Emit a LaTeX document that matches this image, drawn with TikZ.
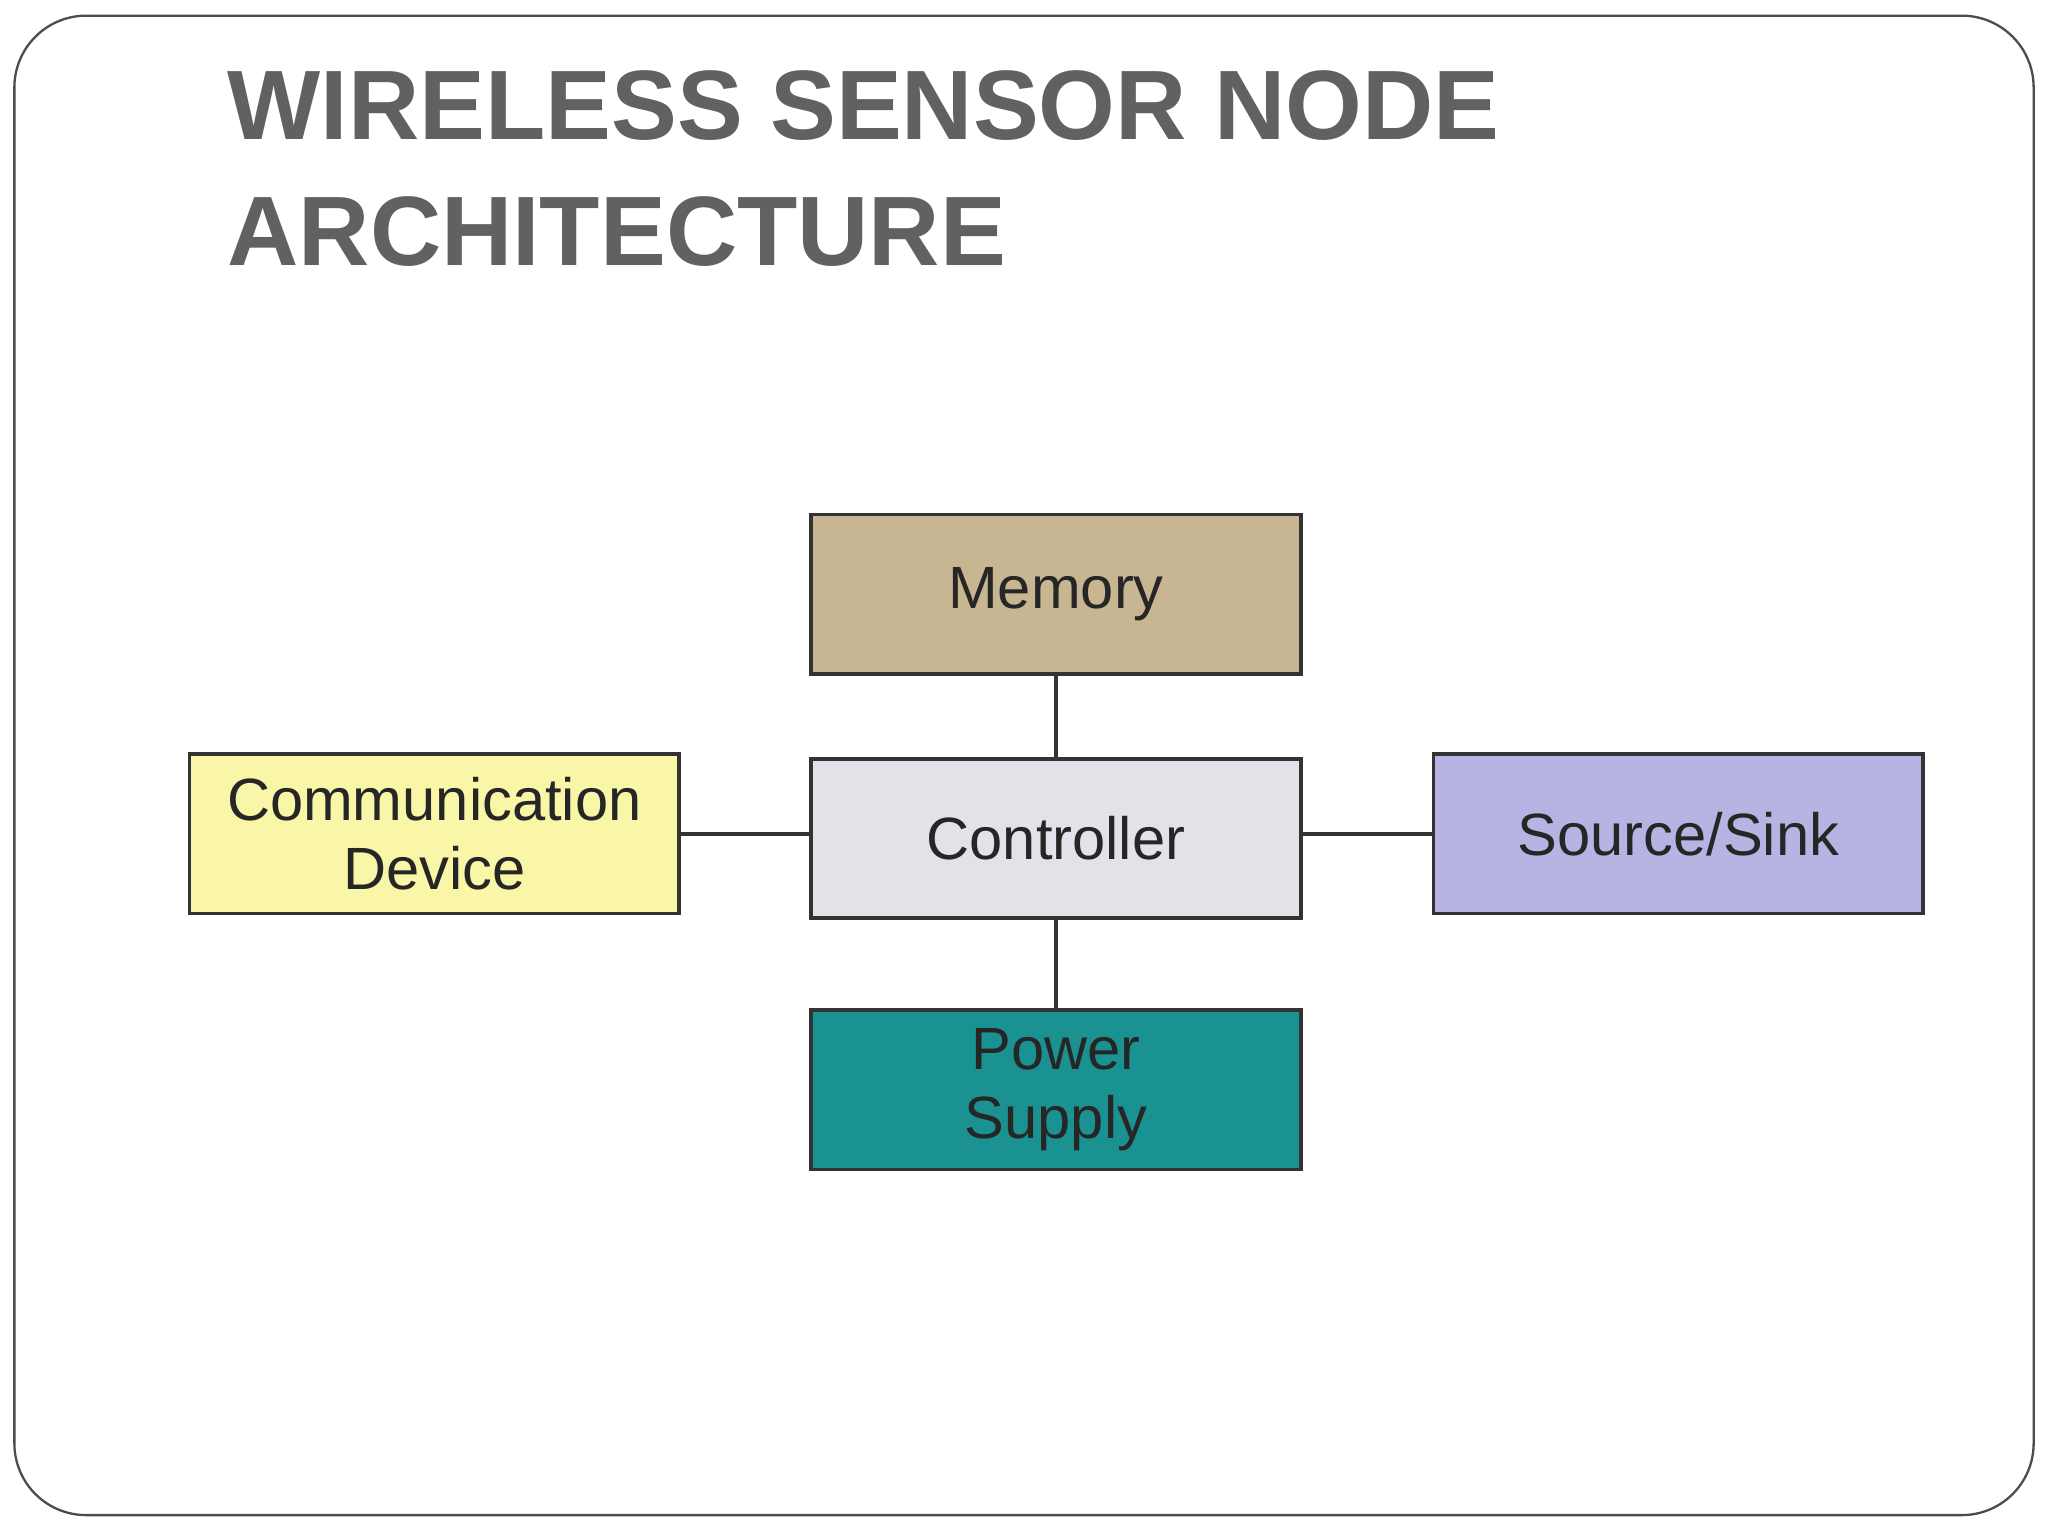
\documentclass[tikz,border=0pt]{standalone}
\usepackage{fontspec}
\setmainfont{Liberation Sans}
\begin{document}
\begin{tikzpicture}[x=0.02cm,y=-0.02cm,
  box/.style={draw=black!80,line width=1.6pt,minimum width=7.5cm,minimum height=2.44cm,inner sep=0pt,align=center,font=\fontsize{26}{30}\selectfont,text=black!85},
  link/.style={draw=black!80,line width=1.4pt}]
\useasboundingbox (0,0) rectangle (1568,1176);
\fill[white] (0,0) rectangle (1568,1176);
\draw[black!70,line width=1pt,rounded corners=1.1cm] (11,12) rectangle (1557,1160);
\node[anchor=north west,align=left,text=black!62,font=\bfseries\fontsize{43}{55}\selectfont] (title) at (168,48) {WIRELESS SENSOR NODE\\ARCHITECTURE};
\node[box,fill={rgb,255:red,200;green,182;blue,146}] (mem) at (808.5,455) {Memory};
\node[box,fill={rgb,255:red,226;green,226;blue,232}] (ctl) at (808.5,642) {Controller};
\node[box,fill={rgb,255:red,250;green,246;blue,168}] (com) at (332.5,638.5) {Communication\\Device};
\node[box,fill={rgb,255:red,182;green,180;blue,226}] (src) at (1285,638.5) {Source/Sink};
\node[box,fill={rgb,255:red,26;green,146;blue,146}] (pow) at (808.5,834.5) {Power\\Supply};
\draw[link] (mem) -- (ctl);
\draw[link] (ctl) -- (pow);
\draw[link] (com.east) -- (ctl.west |- com.east);
\draw[link] (ctl.east |- src.west) -- (src.west);
\end{tikzpicture}
\end{document}
